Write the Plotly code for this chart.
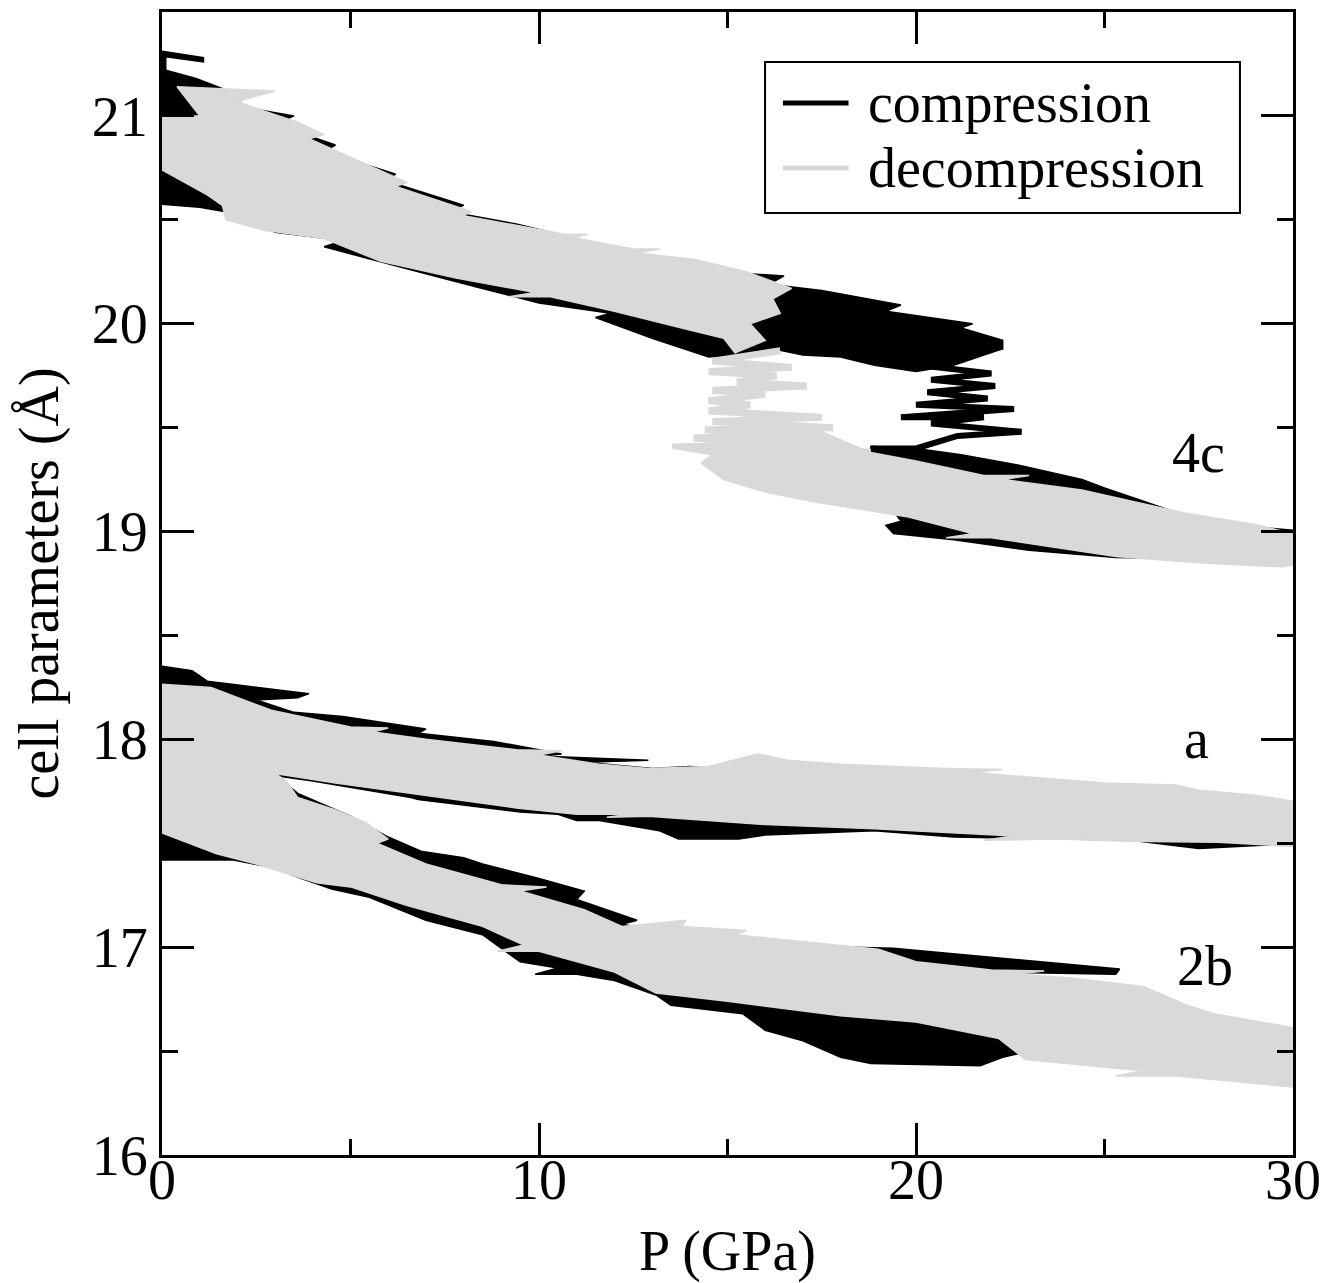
import plotly.graph_objects as go

FONT = "Liberation Serif, Times New Roman, serif"
BLACK = "#000000"
GRAY = "#d9d9d9"

# ---------------- data (pressure P in GPa, cell parameter in Angstrom) ----------------
# compression, 4c, before transition (outline of the band)
comp_c_hi_P = [-0.3, 1.1, 1.1, 0.1, 0.1, 0.9, 2.2, 1.9, 3.5, 3.0, 4.6, 4.3, 6.2, 5.9, 8.0, 7.6, 9.4, 11.0, 12.8, 12.4,
               14.3, 13.9, 16.5, 16.1, 17.5, 19.6, 19.2, 21.5, 21.2, 22.3,
               22.3, 21.0, 20.0, 18.9, 18.0, 17.0, 16.2, 15.2, 14.5, 13.0, 11.5, 11.9, 10.0, 8.5, 7.0, 4.3, 4.8, 3.0,
               2.3, 1.0, -0.3]
comp_c_hi_v = [21.32, 21.28, 21.26, 21.285, 21.22, 21.18, 21.09, 21.05, 21.00, 20.96, 20.86, 20.83, 20.72, 20.69,
               20.57, 20.54, 20.48, 20.41, 20.33, 20.31, 20.28, 20.26, 20.23, 20.19, 20.16, 20.09, 20.06, 20.00,
               19.98, 19.92,
               19.88, 19.80, 19.77, 19.80, 19.84, 19.85, 19.88, 19.85, 19.84, 19.93, 20.03, 20.05, 20.10, 20.17,
               20.24, 20.37, 20.40, 20.44, 20.52, 20.56, 20.58]
# compression, 4c, transition zig-zag
comp_c_mid_P = [22.3, 20.1, 22.0, 20.4, 22.1, 20.3, 21.9, 20.0, 22.6, 19.6, 21.8, 20.4, 22.8, 21.1, 20.0, 18.8]
comp_c_mid_v = [19.89, 19.80, 19.76, 19.73, 19.70, 19.67, 19.64, 19.61, 19.59, 19.55, 19.55, 19.52, 19.48, 19.46,
                19.40, 19.40]
# compression, 4c, after transition
comp_c_lo_P = [18.8, 20.0, 21.2, 22.7, 24.4, 25.0, 27.1, 29.1, 30.4,
               30.4, 27.0, 25.3, 23.0, 21.0, 19.4, 19.2, 19.6, 18.8]
comp_c_lo_v = [19.41, 19.40, 19.37, 19.32, 19.25, 19.21, 19.08, 19.02, 19.00,
               18.86, 18.87, 18.875, 18.91, 18.96, 18.99, 19.03, 19.05, 19.25]
# compression, a
comp_a_P = [-0.3, 0.8, 1.2, 3.9, 3.6, 2.5, 3.5, 4.8, 7.0, 6.8, 8.8, 10.6, 10.0, 12.9, 11.2, 13.0, 14.0, 16.0, 20.0,
            25.4, 26.9, 26.5, 30.3,
            30.3, 27.5, 25.7, 24.0, 21.0, 18.9, 16.0, 15.3, 13.7, 13.2, 11.6, 11.0, 10.5, 9.5, 6.8, 6.6, 4.0, 3.2,
            2.0, -0.3]
comp_a_v = [18.36, 18.33, 18.28, 18.22, 18.20, 18.19, 18.13, 18.11, 18.05, 18.03, 17.99, 17.93, 17.92, 17.90, 17.89,
            17.86, 17.87, 17.85, 17.80, 17.76, 17.76, 17.74, 17.66,
            17.50, 17.475, 17.515, 17.52, 17.53, 17.56, 17.54, 17.52, 17.52, 17.56, 17.61, 17.61, 17.64, 17.65,
            17.71, 17.72, 17.80, 17.82, 17.86, 17.90]
# compression, 2b
comp_b_P = [-0.3, 2.8, 3.6, 5.0, 6.0, 6.9, 8.0, 8.5, 10.0, 11.2, 11.0, 12.6, 12.2, 14.0, 16.0, 19.4, 25.4, 25.3, 22.0,
            26.0, 28.0, 30.4,
            30.4, 30.0, 27.5, 25.0, 23.0, 22.3, 21.7, 18.8, 18.0, 17.0, 16.0, 15.4, 13.5, 13.1, 12.0, 11.0, 9.9,
            10.5, 9.5, 8.5, 7.0, 5.5, 4.5, 3.7, 3.0, 1.9, 0.0, -0.3]
comp_b_v = [17.75, 17.86, 17.74, 17.63, 17.53, 17.46, 17.43, 17.40, 17.33, 17.27, 17.23, 17.13, 17.11, 17.05, 17.01,
            16.995, 16.895, 16.87, 16.88, 16.75, 16.66, 16.55,
            16.52, 16.44, 16.42, 16.46, 16.50, 16.47, 16.43, 16.44, 16.47, 16.55, 16.60, 16.68, 16.72, 16.77, 16.84,
            16.87, 16.87, 16.90, 16.93, 17.06, 17.13, 17.24, 17.28, 17.33, 17.38, 17.42, 17.42, 17.43]

# decompression, 4c, before transition (low pressure side)
decomp_c_hi_P = [-0.4, 1.0, 0.4, 3.0, 2.0, 2.6, 3.6, 4.3, 3.9, 5.0, 6.5, 6.2, 8.2, 8.0, 10.7, 11.3, 10.9, 12.5,
                 13.2, 12.6, 14.1, 15.5, 16.7,
                 16.2, 16.4, 15.6, 16.0, 15.2, 14.9, 14.0, 12.0, 10.3, 9.2, 9.9, 7.8, 5.8, 4.3, 2.7, 1.7, 1.6, 1.2,
                 0.0, -0.4]
decomp_c_hi_v = [21.00, 21.00, 21.14, 21.12, 21.07, 21.03, 20.97, 20.91, 20.89, 20.80, 20.68, 20.66, 20.54, 20.52,
                 20.43, 20.43, 20.415, 20.36, 20.36, 20.34, 20.31, 20.25, 20.17,
                 20.12, 20.05, 20.00, 19.92, 19.86, 19.93, 19.97, 20.06, 20.13, 20.13, 20.15, 20.22, 20.30, 20.41,
                 20.45, 20.50, 20.57, 20.62, 20.74, 20.76]
# decompression, 4c, transition zig-zag
decomp_c_mid_P = [16.4, 14.6, 16.7, 14.5, 16.3, 15.25, 17.1, 14.6, 16.0, 14.5, 15.6, 14.5, 17.5, 14.6, 17.8, 14.4,
                  17.3, 14.1, 18.8]
decomp_c_mid_v = [19.87, 19.82, 19.79, 19.77, 19.75, 19.72, 19.70, 19.68, 19.66, 19.63, 19.61, 19.58, 19.55, 19.53,
                  19.50, 19.49, 19.47, 19.45, 19.38]
# decompression, 4c, high pressure side
decomp_c_lo_P = [13.55, 15.6, 14.6, 17.5, 18.8, 20.0, 21.8, 23.0, 22.3, 24.4, 27.1, 29.1, 30.4,
                 30.4, 29.7, 27.5, 25.3, 22.0, 20.8, 21.5, 19.8, 17.4, 16.0, 14.9, 14.3, 14.6, 13.55]
decomp_c_lo_v = [19.42, 19.43, 19.46, 19.48, 19.38, 19.34, 19.27, 19.27, 19.25, 19.20, 19.09, 19.03, 18.97,
                 18.85, 18.83, 18.85, 18.88, 18.97, 18.97, 18.99, 19.07, 19.14, 19.19, 19.25, 19.33, 19.37, 19.40]
# decompression, a
decomp_a_P = [-0.4, 1.3, 2.9, 5.0, 6.0, 5.6, 7.0, 9.4, 10.6, 10.0, 11.6, 12.9, 14.5, 15.8, 16.6, 18.0, 20.8, 22.3,
              21.5, 23.0, 25.0, 26.9, 27.5, 29.1, 30.4,
              30.4, 28.0, 25.6, 23.8, 21.8, 22.6, 18.9, 16.0, 12.9, 11.8, 12.4, 11.0, 9.4, 6.6, 4.6, 3.2, 2.0, -0.4]
decomp_a_v = [18.27, 18.25, 18.14, 18.06, 18.055, 18.035, 18.00, 17.95, 17.945, 17.925, 17.88, 17.86, 17.87, 17.93,
              17.90, 17.88, 17.86, 17.855, 17.84, 17.82, 17.79, 17.78, 17.755, 17.73, 17.69,
              17.48, 17.505, 17.51, 17.52, 17.515, 17.535, 17.57, 17.59, 17.63, 17.625, 17.64, 17.64, 17.67, 17.74,
              17.79, 17.83, 17.86, 17.90]
# decompression, 2b
decomp_b_P = [-0.4, 1.0, 2.8, 3.3, 3.6, 4.6, 5.4, 6.0, 5.7, 7.0, 9.0, 10.2, 9.5, 11.2, 12.2, 13.9, 13.8, 15.5, 15.2,
              19.0, 20.0, 22.0, 23.4, 22.6, 24.2, 26.05, 27.2, 27.9, 30.4,
              30.4, 26.9, 25.3, 26.0, 22.9, 22.2, 20.0, 18.0, 15.0, 13.1, 12.0, 10.0, 8.9, 9.6, 8.5, 6.5, 5.0, 4.1,
              2.5, 1.45, 0.0, -0.4]
decomp_b_v = [17.96, 17.92, 17.86, 17.80, 17.72, 17.66, 17.60, 17.52, 17.50, 17.40, 17.30, 17.29, 17.27, 17.18,
              17.10, 17.13, 17.10, 17.08, 17.06, 16.99, 16.93, 16.89, 16.885, 16.87, 16.85, 16.81, 16.72, 16.68,
              16.60,
              16.32, 16.38, 16.38, 16.405, 16.46, 16.56, 16.64, 16.67, 16.74, 16.78, 16.88, 16.98, 16.98, 17.01,
              17.10, 17.20, 17.29, 17.31, 17.40, 17.45, 17.55, 17.56]

x_ticks = [0, 10, 20, 30]
y_ticks = [16, 17, 18, 19, 20, 21]
band_labels = ["4c", "a", "2b"]
label_P = [27.48, 27.45, 27.67]
label_v = [19.38, 18.00, 16.91]
legend_names = ["compression", "decompression"]

fig = go.Figure()


def band(P, v, color, name):
    fig.add_trace(go.Scatter(x=P + [P[0]], y=v + [v[0]], mode="lines", fill="toself", fillcolor=color,
                             line=dict(color=color, width=1.5), name=name, showlegend=False,
                             hoverinfo="skip"))


def zig(P, v, color, w, name):
    fig.add_trace(go.Scatter(x=P, y=v, mode="lines", line=dict(color=color, width=w), name=name,
                             showlegend=False, hoverinfo="skip"))


# compression (drawn first, black)
band(comp_c_hi_P, comp_c_hi_v, BLACK, legend_names[0])
zig(comp_c_mid_P, comp_c_mid_v, BLACK, 6, legend_names[0])
band(comp_c_lo_P, comp_c_lo_v, BLACK, legend_names[0])
band(comp_a_P, comp_a_v, BLACK, legend_names[0])
band(comp_b_P, comp_b_v, BLACK, legend_names[0])
# decompression (drawn on top, light gray)
band(decomp_c_hi_P, decomp_c_hi_v, GRAY, legend_names[1])
zig(decomp_c_mid_P, decomp_c_mid_v, GRAY, 7, legend_names[1])
band(decomp_c_lo_P, decomp_c_lo_v, GRAY, legend_names[1])
band(decomp_a_P, decomp_a_v, GRAY, legend_names[1])
band(decomp_b_P, decomp_b_v, GRAY, legend_names[1])

for t, px, pv in zip(band_labels, label_P, label_v):
    fig.add_annotation(x=px, y=pv, text=t, showarrow=False, font=dict(family=FONT, size=56, color="black"),
                       xanchor="center", yanchor="middle")

# legend box drawn by hand to match the original layout
fig.add_shape(type="rect", xref="paper", yref="paper", x0=0.5332, x1=0.9531, y0=0.8241, y1=0.9563,
              line=dict(color="black", width=2), fillcolor="white", layer="above")
for i, (nm, col) in enumerate(zip(legend_names, [BLACK, GRAY])):
    yy = 0.9204 - i * 0.0569
    fig.add_shape(type="line", xref="paper", yref="paper", x0=0.549, x1=0.607, y0=yy, y1=yy,
                  line=dict(color=col, width=5), layer="above")
    fig.add_annotation(xref="paper", yref="paper", x=0.6225, y=yy, text=nm, showarrow=False,
                       xanchor="left", yanchor="middle", font=dict(family=FONT, size=56, color="black"))

axis_common = dict(showline=True, linecolor="black", linewidth=3, mirror="allticks", ticks="inside",
                   ticklen=32, tickwidth=2.5, tickcolor="black", showgrid=False, zeroline=False,
                   tickfont=dict(family=FONT, size=56, color="black"))
fig.update_xaxes(range=[0, 30], tickvals=x_ticks, ticktext=[str(t) for t in x_ticks],
                 minor=dict(dtick=5, ticklen=16, tickwidth=2.5, ticks="inside", tickcolor="black"),
                 ticklabelstandoff=-26,
                 title=dict(text="P (GPa)", font=dict(family=FONT, size=56, color="black"), standoff=30),
                 **axis_common)
fig.update_yaxes(range=[16, 21.5], tickvals=y_ticks, ticktext=[str(t) for t in y_ticks],
                 minor=dict(dtick=0.5, ticklen=16, tickwidth=2.5, ticks="inside", tickcolor="black"),
                 title=dict(text="cell parameters (Å)", font=dict(family=FONT, size=56, color="black"),
                            standoff=22),
                 **axis_common)
# the page adds an 8 px body margin, so the figure is 8 px smaller than the window
fig.update_layout(width=1320, height=1275, margin=dict(l=154, r=35, t=4, b=128, autoexpand=False),
                  plot_bgcolor="white", paper_bgcolor="white", showlegend=False)
fig.write_html("out.html")
